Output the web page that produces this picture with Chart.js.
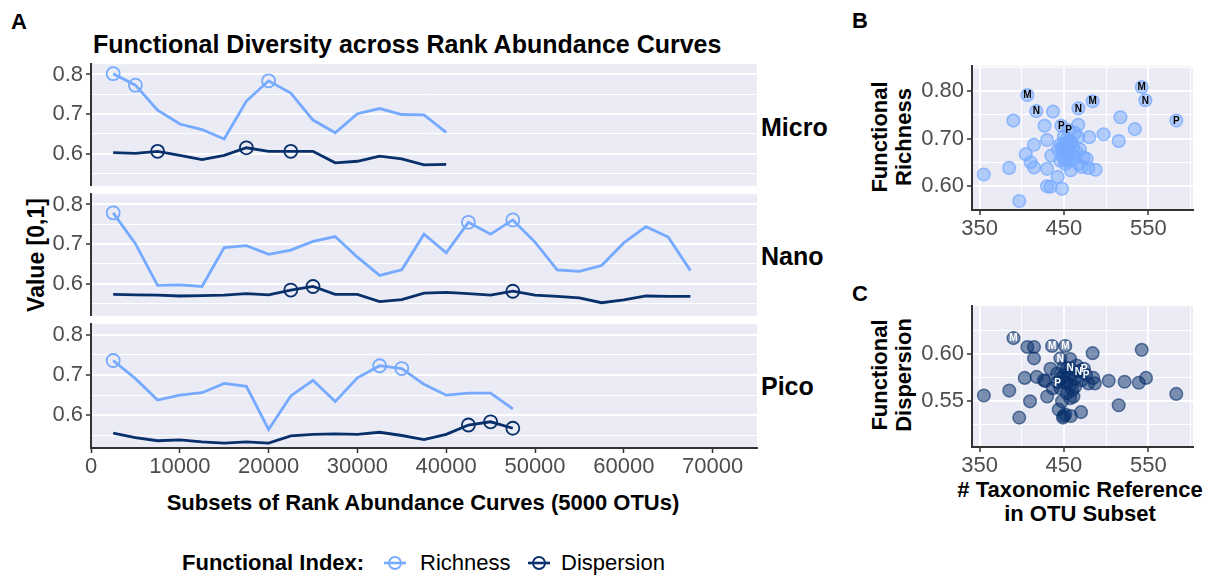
<!DOCTYPE html>
<html><head><meta charset="utf-8">
<script src="https://cdn.jsdelivr.net/npm/chart.js@4.4.0/dist/chart.umd.min.js"></script>
<style>
body{margin:0;background:#fff;width:1216px;height:575px;overflow:hidden;position:relative;font-family:"Liberation Sans",Arial,sans-serif;}
canvas{position:absolute;}
.t{position:absolute;white-space:nowrap;color:#000;font-weight:bold;}
.rot{position:absolute;transform:translate(-50%,-50%) rotate(-90deg);text-align:center;font-weight:bold;white-space:nowrap;}
</style></head><body>
<div class="t" style="left:11px;top:9px;font-size:22px;">A</div>
<div class="t" style="left:93px;top:30px;font-size:25px;">Functional Diversity across Rank Abundance Curves</div>
<div class="rot" style="left:36px;top:255px;font-size:23px;">Value [0,1]</div>
<div class="t" style="left:761px;top:113px;font-size:25px;">Micro</div>
<div class="t" style="left:761px;top:242px;font-size:25px;">Nano</div>
<div class="t" style="left:761px;top:372px;font-size:25px;">Pico</div>
<div class="t" style="left:423px;top:490px;font-size:22px;transform:translateX(-50%);">Subsets of Rank Abundance Curves (5000 OTUs)</div>
<div class="t" style="left:182px;top:550px;font-size:22px;">Functional Index:</div>
<svg style="position:absolute;left:383px;top:553px" width="24" height="20"><line x1="1" y1="10" x2="23" y2="10" stroke="#75AAFF" stroke-width="2.6"/><circle cx="12" cy="10" r="6" fill="none" stroke="#75AAFF" stroke-width="1.8"/></svg>
<div class="t" style="left:420px;top:550px;font-size:22px;font-weight:normal;">Richness</div>
<svg style="position:absolute;left:527px;top:553px" width="24" height="20"><line x1="1" y1="10" x2="23" y2="10" stroke="#08306B" stroke-width="2.6"/><circle cx="12" cy="10" r="6" fill="none" stroke="#08306B" stroke-width="1.8"/></svg>
<div class="t" style="left:561px;top:550px;font-size:22px;font-weight:normal;">Dispersion</div>

<div class="t" style="left:852px;top:8px;font-size:22px;">B</div>
<div class="rot" style="left:892px;top:137px;font-size:22px;line-height:24px;">Functional<br>Richness</div>
<div class="t" style="left:852px;top:281px;font-size:22px;">C</div>
<div class="rot" style="left:892px;top:375px;font-size:22px;line-height:24px;">Functional<br>Dispersion</div>
<div class="t" style="left:1080px;top:478px;font-size:22px;line-height:24px;text-align:center;transform:translateX(-50%);"># Taxonomic Reference<br>in OTU Subset</div>

<canvas id="micro" width="800" height="154" style="left:0;top:48px"></canvas>
<canvas id="nano" width="800" height="154" style="left:0;top:178px"></canvas>
<canvas id="pico" width="800" height="181" style="left:0;top:308px"></canvas>
<canvas id="panelB" width="376" height="200" style="left:840px;top:50px"></canvas>
<canvas id="panelC" width="376" height="200" style="left:840px;top:290px"></canvas>

<script>
// ---------- DATA ----------
const subsets = [2500,5000,7500,10000,12500,15000,17500,20000,22500,25000,27500,30000,32500,35000,37500,40000,42500,45000,47500,50000,52500,55000,57500,60000,62500,65000,67500];

const microRichness   = [0.802,0.773,0.710,0.675,0.661,0.637,0.733,0.784,0.753,0.685,0.653,0.701,0.714,0.699,0.698,0.654];
const microDispersion = [0.603,0.601,0.606,0.596,0.585,0.596,0.615,0.606,0.606,0.606,0.577,0.581,0.594,0.587,0.572,0.573];
const nanoRichness    = [0.779,0.701,0.596,0.597,0.593,0.691,0.696,0.674,0.685,0.707,0.719,0.667,0.621,0.635,0.725,0.678,0.755,0.725,0.761,0.705,0.635,0.631,0.646,0.703,0.744,0.718,0.633];
const nanoDispersion  = [0.573,0.572,0.571,0.569,0.570,0.571,0.575,0.572,0.584,0.593,0.573,0.573,0.555,0.560,0.576,0.578,0.575,0.571,0.581,0.571,0.568,0.564,0.552,0.559,0.569,0.568,0.568];
const picoRichness    = [0.736,0.691,0.638,0.650,0.656,0.679,0.672,0.565,0.648,0.687,0.634,0.693,0.723,0.716,0.677,0.650,0.655,0.655,0.616];
const picoDispersion  = [0.556,0.545,0.537,0.539,0.534,0.531,0.534,0.531,0.549,0.553,0.554,0.553,0.558,0.550,0.540,0.553,0.576,0.584,0.568];

const microRichnessTop   = [2500,5000,20000];
const microDispersionTop = [7500,17500,22500];
const nanoRichnessTop    = [2500,42500,47500];
const nanoDispersionTop  = [22500,25000,47500];
const picoRichnessTop    = [2500,32500,35000];
const picoDispersionTop  = [42500,45000,47500];

const xTicksA = [0,10000,20000,30000,40000,50000,60000,70000];
const yMajorA = [0.6,0.7,0.8];
const yGridA  = [0.55,0.6,0.65,0.7,0.75,0.8];

// Panel B: taxonomic reference count vs functional richness
const bLabelText = ['M','N','N','M','M','N','P','P','P'];
const bLabelX = [406.6,417.2,467.2,484.0,542.2,546.5,583.2,446.9,455.5];
const bLabelY = [0.792,0.758,0.764,0.779,0.809,0.781,0.738,0.727,0.718];
const bX = [390,437,427,430,414.5,404.7,410.5,414.5,385,355,430,442.6,430,434,447.7,397,467,467,480,497,517,534,515,435,443,449.6,457,449.6,457,458,469,473,477,479,487.5,467,451.6,445.7,461,453.5,463,471,449.6,455.5,445.7,459.4,465,452,448,456,462,453,450];
const bY = [0.738,0.757,0.727,0.697,0.687,0.667,0.650,0.639,0.638,0.624,0.636,0.619,0.599,0.598,0.594,0.568,0.729,0.703,0.703,0.709,0.745,0.720,0.695,0.664,0.677,0.688,0.695,0.660,0.653,0.633,0.677,0.660,0.657,0.638,0.634,0.646,0.646,0.653,0.681,0.698,0.712,0.640,0.674,0.667,0.688,0.691,0.671,0.655,0.680,0.676,0.662,0.690,0.705];

// Panel C: taxonomic reference count vs functional dispersion
const cLabelText = ['M','M','M','N','N','N','P','P','P'];
const cLabelX = [390.2,435.9,451.6,445.7,457.4,467.2,473.8,476.2,442.6];
const cLabelY = [0.6169,0.6086,0.6086,0.5955,0.5852,0.5817,0.5845,0.5783,0.5700];
const cX = [406.6,414.5,414.5,484,542.2,403.5,417.6,385.2,355.1,409.8,397,428.1,434,430.1,443.8,448.8,451.6,458.2,470.3,457.4,461.3,503.1,521.9,538.7,547.3,514.9,583.2,486.7,478.9,484.8,457.4,465.2,449.6,453.5,463.3,445.7,453.5,436.8,449.6,441.8,459.4,447.7,426.2,471.0,449.6,457.4,445.7,453.5,463.3,449.6,470.3,455,460];
const cY = [0.6076,0.6076,0.5955,0.6010,0.6045,0.5748,0.5759,0.5614,0.5562,0.5500,0.5328,0.5714,0.5845,0.5552,0.5414,0.5328,0.5362,0.5345,0.5386,0.5534,0.5552,0.5717,0.5707,0.5697,0.5748,0.5459,0.5579,0.5690,0.5690,0.5748,0.5948,0.5879,0.5776,0.5690,0.5741,0.5638,0.5586,0.5638,0.5862,0.5793,0.5793,0.5500,0.5724,0.5724,0.5707,0.5672,0.5741,0.5845,0.5655,0.5345,0.5828,0.576,0.562];

const xTicksBC = [350,400,450,500,550,600];
const xMajorBC = [350,450,550];
const yGridB = [0.60,0.65,0.70,0.75,0.80,0.85];
const yMajorB = [0.60,0.70,0.80];
const yGridC = [0.525,0.55,0.575,0.60,0.625];
const yMajorC = [0.55,0.60];

// ---------- STYLE ----------
const RICH = '#75AAFF', DISP = '#08306B', BG = '#EBEBF5', AX = '#333333', TICK = '#4D4D4D';
const FAM = '"Liberation Sans", Arial, sans-serif';
const isIn = (arr, v) => arr.some(a => Math.abs(a - v) < 1e-6);

const bgPlugin = {
  id: 'bg',
  beforeDraw(chart) {
    const a = chart.chartArea, c = chart.ctx;
    c.save(); c.fillStyle = BG; c.fillRect(a.left, a.top, a.right - a.left, a.bottom - a.top); c.restore();
  }
};
const labelPlugin = {
  id: 'ptLabels',
  afterDatasetsDraw(chart) {
    const c = chart.ctx;
    chart.data.datasets.forEach((ds, di) => {
      if (!ds.ptLabels) return;
      const meta = chart.getDatasetMeta(di);
      c.save();
      c.font = ds.ptFont; c.fillStyle = ds.ptColor; c.textAlign = 'center'; c.textBaseline = 'middle';
      meta.data.forEach((el, i) => c.fillText(ds.ptLabels[i], el.x, el.y + 0.5));
      c.restore();
    });
  }
};

function facet(id, rich, disp, richTop, dispTop, showX) {
  const pts = (vals) => vals.map((v, i) => ({x: subsets[i], y: v}));
  const top = (vals, xs) => xs.map(x => ({x, y: vals[subsets.indexOf(x)]}));
  const lineDs = (vals, col) => ({type:'line', data: pts(vals), borderColor: col, borderWidth: 2.8, pointRadius: 0, tension: 0, fill: false});
  const topDs = (vals, xs, col) => ({type:'line', data: top(vals, xs), showLine: false, pointRadius: 6.5, pointBorderWidth: 1.8, pointBorderColor: col, pointBackgroundColor: 'rgba(0,0,0,0)'});
  new Chart(document.getElementById(id), {
    type: 'line',
    data: { datasets: [topDs(rich, richTop, RICH), topDs(disp, dispTop, DISP), lineDs(rich, RICH), lineDs(disp, DISP)] },
    options: {
      responsive: false, animation: false, events: [],
      layout: { padding: { left: 0, right: 43, top: 14, bottom: showX ? 0 : 14 } },
      plugins: { legend: {display: false}, tooltip: {enabled: false} },
      scales: {
        x: {
          type: 'linear', min: 0, max: 75000, display: showX,
          afterBuildTicks: s => { s.ticks = xTicksA.map(v => ({value: v})); },
          afterFit: s => { s.height = showX ? 41 : 0; },
          ticks: { callback: v => String(v), autoSkip: false, maxRotation: 0, color: TICK, font: {size: 22, family: FAM}, padding: 1 },
          grid: { drawOnChartArea: false, drawTicks: true, tickLength: 5, tickColor: AX, tickWidth: 1.5 },
          border: { display: true, color: AX, width: 2 }
        },
        y: {
          type: 'linear', min: 0.519, max: 0.826,
          afterBuildTicks: s => { s.ticks = yGridA.map(v => ({value: v})); },
          afterFit: s => { s.width = 91; },
          ticks: { callback: v => isIn(yMajorA, v) ? v.toFixed(1) : '', autoSkip: false, color: TICK, font: {size: 22, family: FAM}, padding: 3 },
          grid: { color: '#FFFFFF', lineWidth: c => (c.tick && isIn(yMajorA, c.tick.value)) ? 2 : 1, drawTicks: true, tickLength: 5,
                  tickColor: c => (c.tick && isIn(yMajorA, c.tick.value)) ? AX : 'rgba(0,0,0,0)', tickWidth: 1.5 },
          border: { display: true, color: AX, width: 2 }
        }
      }
    },
    plugins: [bgPlugin]
  });
}
facet('micro', microRichness, microDispersion, microRichnessTop, microDispersionTop, false);
facet('nano',  nanoRichness,  nanoDispersion,  nanoRichnessTop,  nanoDispersionTop,  false);
facet('pico',  picoRichness,  picoDispersion,  picoRichnessTop,  picoDispersionTop,  true);

function scatterPanel(id, lx, ly, ltxt, ux, uy, fill, stroke, txtCol, yMin, yMax, yGrid, yMajor, padTop, xH) {
  new Chart(document.getElementById(id), {
    type: 'scatter',
    data: { datasets: [
      { data: lx.map((x, i) => ({x, y: ly[i]})), ptLabels: ltxt, ptFont: 'bold 10px ' + FAM, ptColor: txtCol,
        pointRadius: 6.3, pointBackgroundColor: fill, pointBorderColor: stroke, pointBorderWidth: 1.5 },
      { data: ux.map((x, i) => ({x, y: uy[i]})),
        pointRadius: 6.3, pointBackgroundColor: fill, pointBorderColor: stroke, pointBorderWidth: 1.5 }
    ]},
    options: {
      responsive: false, animation: false, events: [],
      layout: { padding: { left: 0, right: 23, top: padTop, bottom: 0 } },
      plugins: { legend: {display: false}, tooltip: {enabled: false} },
      scales: {
        x: {
          type: 'linear', min: 341, max: 603,
          afterBuildTicks: s => { s.ticks = xTicksBC.map(v => ({value: v})); },
          afterFit: s => { s.height = xH; },
          ticks: { callback: v => isIn(xMajorBC, v) ? String(v) : '', autoSkip: false, maxRotation: 0, color: TICK, font: {size: 22, family: FAM}, padding: 1 },
          grid: { color: '#FFFFFF', lineWidth: c => (c.tick && isIn(xMajorBC, c.tick.value)) ? 2 : 1, drawTicks: true, tickLength: 5,
                  tickColor: c => (c.tick && isIn(xMajorBC, c.tick.value)) ? AX : 'rgba(0,0,0,0)', tickWidth: 1.5 },
          border: { display: true, color: AX, width: 2 }
        },
        y: {
          type: 'linear', min: yMin, max: yMax,
          afterBuildTicks: s => { s.ticks = yGrid.map(v => ({value: v})); },
          afterFit: s => { s.width = 132; },
          ticks: { callback: v => isIn(yMajor, v) ? v.toFixed(2) : '', autoSkip: false, color: TICK, font: {size: 22, family: FAM}, padding: 3 },
          grid: { color: '#FFFFFF', lineWidth: c => (c.tick && isIn(yMajor, c.tick.value)) ? 2 : 1, drawTicks: true, tickLength: 5,
                  tickColor: c => (c.tick && isIn(yMajor, c.tick.value)) ? AX : 'rgba(0,0,0,0)', tickWidth: 1.5 },
          border: { display: true, color: AX, width: 2 }
        }
      }
    },
    plugins: [bgPlugin, labelPlugin]
  });
}
scatterPanel('panelB', bLabelX, bLabelY, bLabelText, bX, bY, 'rgba(117,170,255,0.5)', 'rgba(117,170,255,0.75)', '#000000', 0.549, 0.853, yGridB, yMajorB, 14, 40);
scatterPanel('panelC', cLabelX, cLabelY, cLabelText, cX, cY, 'rgba(8,48,107,0.5)', 'rgba(8,48,107,0.6)', '#FFFFFF', 0.5017, 0.6507, yGridC, yMajorC, 13, 43);
</script>
</body></html>
